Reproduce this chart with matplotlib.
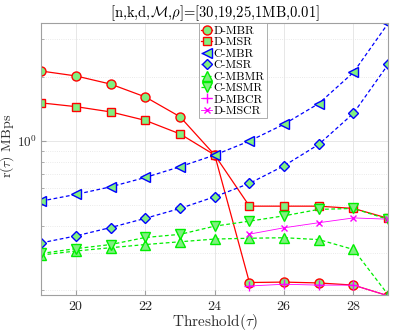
import numpy as np
import matplotlib
matplotlib.use("Agg")
import matplotlib.pyplot as plt
from matplotlib.ticker import NullFormatter, LogLocator

plt.rcParams['font.family'] = 'serif'
plt.rcParams['font.serif'] = ['cmr10', 'DejaVu Serif']
plt.rcParams['mathtext.fontset'] = 'cm'
plt.rcParams['axes.formatter.use_mathtext'] = True

# threshold values
tau = [19, 20, 21, 22, 23, 24, 25, 26, 27, 28, 29]
tau_c = [25, 26, 27, 28, 29]

d_mbr = [2.13, 2.02, 1.85, 1.61, 1.30, 0.86, 0.217, 0.218, 0.216, 0.211, 0.188]
d_msr = [1.51, 1.45, 1.37, 1.25, 1.08, 0.86, 0.495, 0.495, 0.495, 0.483, 0.434]
c_mbr = [0.523, 0.562, 0.610, 0.675, 0.758, 0.86, 1.00, 1.20, 1.50, 2.10, 3.57]
c_msr = [0.333, 0.359, 0.393, 0.434, 0.483, 0.548, 0.633, 0.766, 0.965, 1.35, 2.29]
c_mbmr = [0.292, 0.305, 0.316, 0.327, 0.337, 0.347, 0.350, 0.352, 0.345, 0.310, 0.190]
c_msmr = [0.297, 0.313, 0.327, 0.353, 0.365, 0.399, 0.421, 0.446, 0.478, 0.483, 0.429]
d_mbcr = [0.209, 0.213, 0.211, 0.211, 0.188]
d_mscr = [0.366, 0.392, 0.414, 0.436, 0.430]

fig = plt.figure(figsize=(4.01, 3.32), dpi=100)
ax = fig.add_axes([0.103, 0.112, 0.865, 0.818])

face = '#80f080'
ms = 6.5
lw = 0.9
dash = (3, 2)
ax.plot(tau, d_mbr, '-', color='red', marker='o', ms=ms, mfc=face, mec='red', lw=lw, label='D-MBR')
ax.plot(tau, d_msr, '-', color='red', marker='s', ms=5.5, mfc=face, mec='red', lw=lw, label='D-MSR')
ax.plot(tau, c_mbr, '--', dashes=dash, color='blue', marker='<', ms=ms, mfc=face, mec='blue', lw=lw, label='C-MBR')
ax.plot(tau, c_msr, '--', dashes=dash, color='blue', marker='D', ms=5.5, mfc=face, mec='blue', lw=lw, label='C-MSR')
ax.plot(tau, c_mbmr, '--', dashes=dash, color='#00ee00', marker='^', ms=ms, mfc=face, mec='#00ee00', lw=lw, label='C-MBMR')
ax.plot(tau, c_msmr, '--', dashes=dash, color='#00ee00', marker='v', ms=ms, mfc=face, mec='#00ee00', lw=lw, label='C-MSMR')
ax.plot(tau_c, d_mbcr, '-', color='#ff00ff', marker='+', ms=ms, mec='#ff00ff', lw=0.6, label='D-MBCR')
ax.plot(tau_c, d_mscr, '-', color='#ff00ff', marker='x', ms=5, mec='#ff00ff', lw=0.6, label='D-MSCR')

ax.set_yscale('log')
ax.set_xlim(19, 29)
ax.set_ylim(0.19, 3.57)
ax.set_xticks([20, 22, 24, 26, 28])
ax.yaxis.set_minor_locator(LogLocator(base=10, subs=np.arange(2, 10)))
ax.yaxis.set_minor_formatter(NullFormatter())

ax.grid(True, which='major', color='#e3e3e3', lw=0.6)
ax.grid(True, which='minor', color='#e3e3e3', lw=0.6, ls=':')
for s in ax.spines.values():
    s.set_color('#a0a0a0')
    s.set_linewidth(0.8)
ax.tick_params(which='both', direction='in', colors='#a0a0a0', labelcolor='#262626', labelsize=10)
ax.tick_params(axis='y', pad=3, labelsize=9.5)
ax.tick_params(which='minor', length=2)

ax.set_title(r'[n,k,d,$\mathcal{M}$,$\rho$]=[30,19,25,1MB,0.01]', fontsize=10.5, pad=4)
ax.set_xlabel(r'Threshold($\tau$)', fontsize=11, color='#303030')
ax.set_ylabel(r'r($\tau$) MBps', fontsize=10, color='#303030')
ax.xaxis.set_label_coords(0.5, -0.062)
ax.yaxis.set_label_coords(-0.072, 0.55)

leg = ax.legend(loc='upper left', bbox_to_anchor=(0.455, 1.0), fontsize=8.5, handlelength=0.9,
                handletextpad=0.1, labelspacing=0.1, borderpad=0.2, borderaxespad=0.0,
                fancybox=False, framealpha=1)
leg.get_frame().set_edgecolor('#a0a0a0')
leg.get_frame().set_linewidth(0.6)

fig.savefig('out.png', dpi=100)
